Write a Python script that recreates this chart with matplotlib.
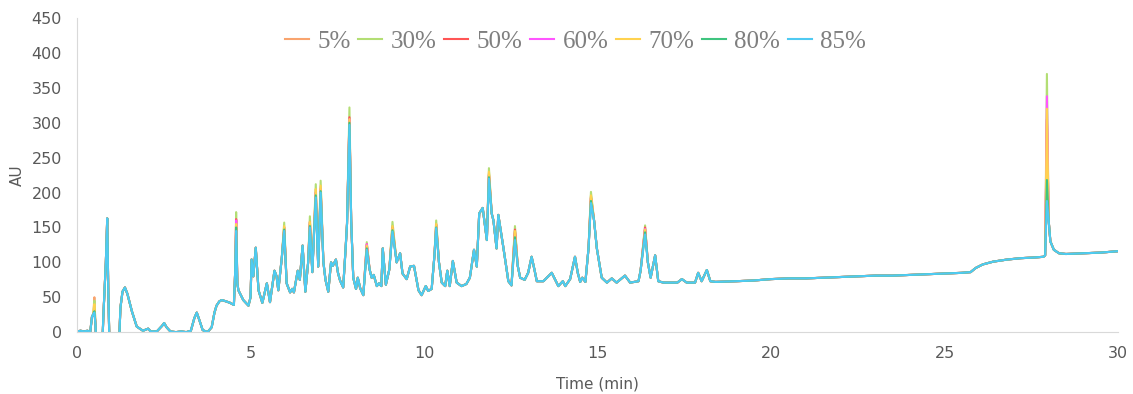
import numpy as np
import matplotlib
matplotlib.use("Agg")
import matplotlib.pyplot as plt

# series in legend order
labels = ["5%", "30%", "50%", "60%", "70%", "80%", "85%"]
colors = ["#f9a46e", "#b3de74", "#ff5555", "#ff55ff", "#ffd24f", "#3fc47f", "#4fcaf2"]

# shared trace (time in min, AU)
time = [0.00, 0.10, 0.20, 0.30, 0.38, 0.43, 0.47, 0.50, 0.53, 0.56, 0.72, 0.76, 0.83, 0.87, 0.90,
        0.94, 1.20, 1.25, 1.31, 1.38, 1.45, 1.58, 1.72, 1.90, 2.00, 2.05, 2.12, 2.30, 2.45, 2.51,
        2.58, 2.69, 2.85, 3.00, 3.15, 3.28, 3.38, 3.45, 3.52, 3.62, 3.76, 3.88, 3.96, 4.02, 4.10,
        4.17, 4.30, 4.41, 4.52, 4.56, 4.585, 4.62, 4.65, 4.79, 4.94, 5.00, 5.03, 5.08, 5.15, 5.23,
        5.34, 5.47, 5.56, 5.69, 5.75, 5.80, 5.90, 5.97, 6.04, 6.14, 6.20, 6.25, 6.36, 6.42, 6.50,
        6.58, 6.66, 6.71, 6.78, 6.88, 6.95, 7.02, 7.10, 7.16, 7.24, 7.32, 7.37, 7.46, 7.52, 7.58,
        7.67, 7.74, 7.78, 7.85, 7.90, 7.96, 8.04, 8.09, 8.16, 8.25, 8.35, 8.43, 8.49, 8.55, 8.64,
        8.70, 8.77, 8.81, 8.90, 9.00, 9.09, 9.21, 9.31, 9.38, 9.50, 9.60, 9.71, 9.84, 9.93, 10.05,
        10.12, 10.22, 10.30, 10.35, 10.43, 10.51, 10.61, 10.67, 10.74, 10.83, 10.94, 11.08, 11.22,
        11.32, 11.44, 11.52, 11.59, 11.69, 11.81, 11.87, 11.95, 12.00, 12.09, 12.14, 12.29, 12.43,
        12.52, 12.62, 12.70, 12.77, 12.90, 13.00, 13.10, 13.18, 13.25, 13.44, 13.68, 13.87, 14.00,
        14.07, 14.21, 14.35, 14.43, 14.50, 14.56, 14.65, 14.74, 14.81, 14.90, 14.98, 15.12, 15.27,
        15.41, 15.55, 15.79, 15.94, 16.18, 16.24, 16.37, 16.45, 16.53, 16.66, 16.75, 16.90, 17.30,
        17.43, 17.57, 17.81, 17.90, 18.00, 18.15, 18.25, 18.40, 19.0, 19.5, 20.0, 20.5, 21.0, 21.5,
        22.0, 22.5, 23.0, 23.5, 24.0, 24.5, 25.0, 25.5, 25.75, 25.9, 26.1, 26.4, 26.8, 27.2, 27.6,
        27.85, 27.90, 27.95, 28.00, 28.05, 28.15, 28.30, 28.50, 29.0, 29.5, 30.0]
base = [1, 2, 1, 2, 0, 22, 26, 28, 12, -30, -30, 25, 100, 163, 60,
        -30, -30, 35, 58, 64, 55, 30, 8, 2, 4, 5, 1, 1, 9, 13,
        7, 1, 0, 1, 0, 2, 20, 28, 18, 3, 0, 7, 28, 38, 44,
        46, 44, 42, 39, 90, 145, 70, 60, 46, 38, 50, 104, 80, 121, 60,
        42, 70, 43, 88, 80, 60, 106, 145, 70, 57, 62, 57, 88, 75, 124,
        58, 100, 150, 86, 193, 94, 200, 100, 75, 58, 100, 95, 104, 85, 74,
        64, 120, 155, 297, 160, 78, 62, 78, 63, 53, 118, 90, 78, 82, 66,
        70, 66, 120, 68, 90, 144, 100, 113, 84, 76, 94, 95, 60, 53, 66,
        59, 62, 110, 149, 100, 71, 66, 88, 66, 102, 71, 66, 69,
        78, 118, 94, 170, 178, 132, 220, 170, 160, 120, 168, 120, 73,
        67, 132, 95, 78, 75, 85, 108, 90, 73, 73, 85, 66, 73,
        66, 76, 108, 85, 72, 78, 72, 120, 185, 160, 120, 78, 71,
        77, 71, 81, 71, 73, 88, 140, 100, 78, 110, 73, 71, 71,
        76, 71, 71, 85, 73, 89, 73, 72, 73, 74, 76, 77, 77, 78,
        79, 80, 81, 81, 82, 83, 84, 85, 86, 92, 97, 101, 104, 106, 107,
        108, 110, 188, 160, 130, 118, 113, 112, 113, 114, 116]

# peak heights that differ between series
peak_times = [0.50, 4.585, 5.97, 6.71, 6.88, 7.02, 7.85, 8.35, 9.09, 10.35, 11.87, 12.62, 14.81, 16.37, 27.95]
peaks_5 = [50, 160, 150, 158, 205, 208, 305, 125, 152, 155, 228, 145, 195, 148, 303]
peaks_30 = [45, 172, 157, 166, 212, 217, 322, 129, 158, 160, 235, 152, 201, 153, 370]
peaks_50 = [32, 162, 150, 158, 200, 205, 308, 126, 150, 154, 226, 147, 193, 150, 305]
peaks_60 = [30, 160, 148, 155, 200, 205, 305, 126, 148, 152, 225, 142, 192, 148, 338]
peaks_70 = [40, 155, 152, 158, 205, 210, 305, 124, 152, 155, 230, 145, 196, 147, 320]
peaks_80 = [30, 150, 147, 152, 196, 202, 300, 120, 146, 150, 222, 136, 188, 143, 218]
peaks_85 = [28, 145, 145, 150, 193, 200, 297, 118, 144, 149, 220, 132, 185, 140, 188]
all_peaks = [peaks_5, peaks_30, peaks_50, peaks_60, peaks_70, peaks_80, peaks_85]

t = np.array(time)
peak_idx = [time.index(p) for p in peak_times]

fig = plt.figure(figsize=(11.33, 3.94), dpi=100)
ax = fig.add_axes([0.068, 0.157, 0.9188, 0.797])

for lab, col, pk in zip(labels, colors, all_peaks):
    y = np.array(base, dtype=float)
    y[peak_idx] = pk
    ax.plot(t, y, color=col, lw=1.5, label=lab)

ax.set_xlim(0, 30)
ax.set_ylim(0, 450)
ax.set_xticks(range(0, 31, 5))
ax.set_yticks(range(0, 451, 50))
ax.tick_params(length=0, labelsize=11.5, labelcolor="#595959")
ax.tick_params(axis="x", pad=10)
ax.tick_params(axis="y", pad=11)
for s in ["top", "right"]:
    ax.spines[s].set_visible(False)
for s in ["left", "bottom"]:
    ax.spines[s].set_color("#d9d9d9")

ax.set_xlabel("Time (min)", fontsize=11, color="#595959")
ax.set_ylabel("AU", fontsize=11, color="#595959")
ax.xaxis.set_label_coords(0.5, -0.14)
ax.yaxis.set_label_coords(-0.05, 0.5)

leg = ax.legend(loc="center", bbox_to_anchor=(0.479, 0.924), ncol=7, frameon=False,
                prop={"family": "Liberation Serif", "size": 18},
                handlelength=0.95, handletextpad=0.35, columnspacing=0.3)
for txt in leg.get_texts():
    txt.set_color("#7f7f7f")

fig.savefig("out.png", dpi=100)
